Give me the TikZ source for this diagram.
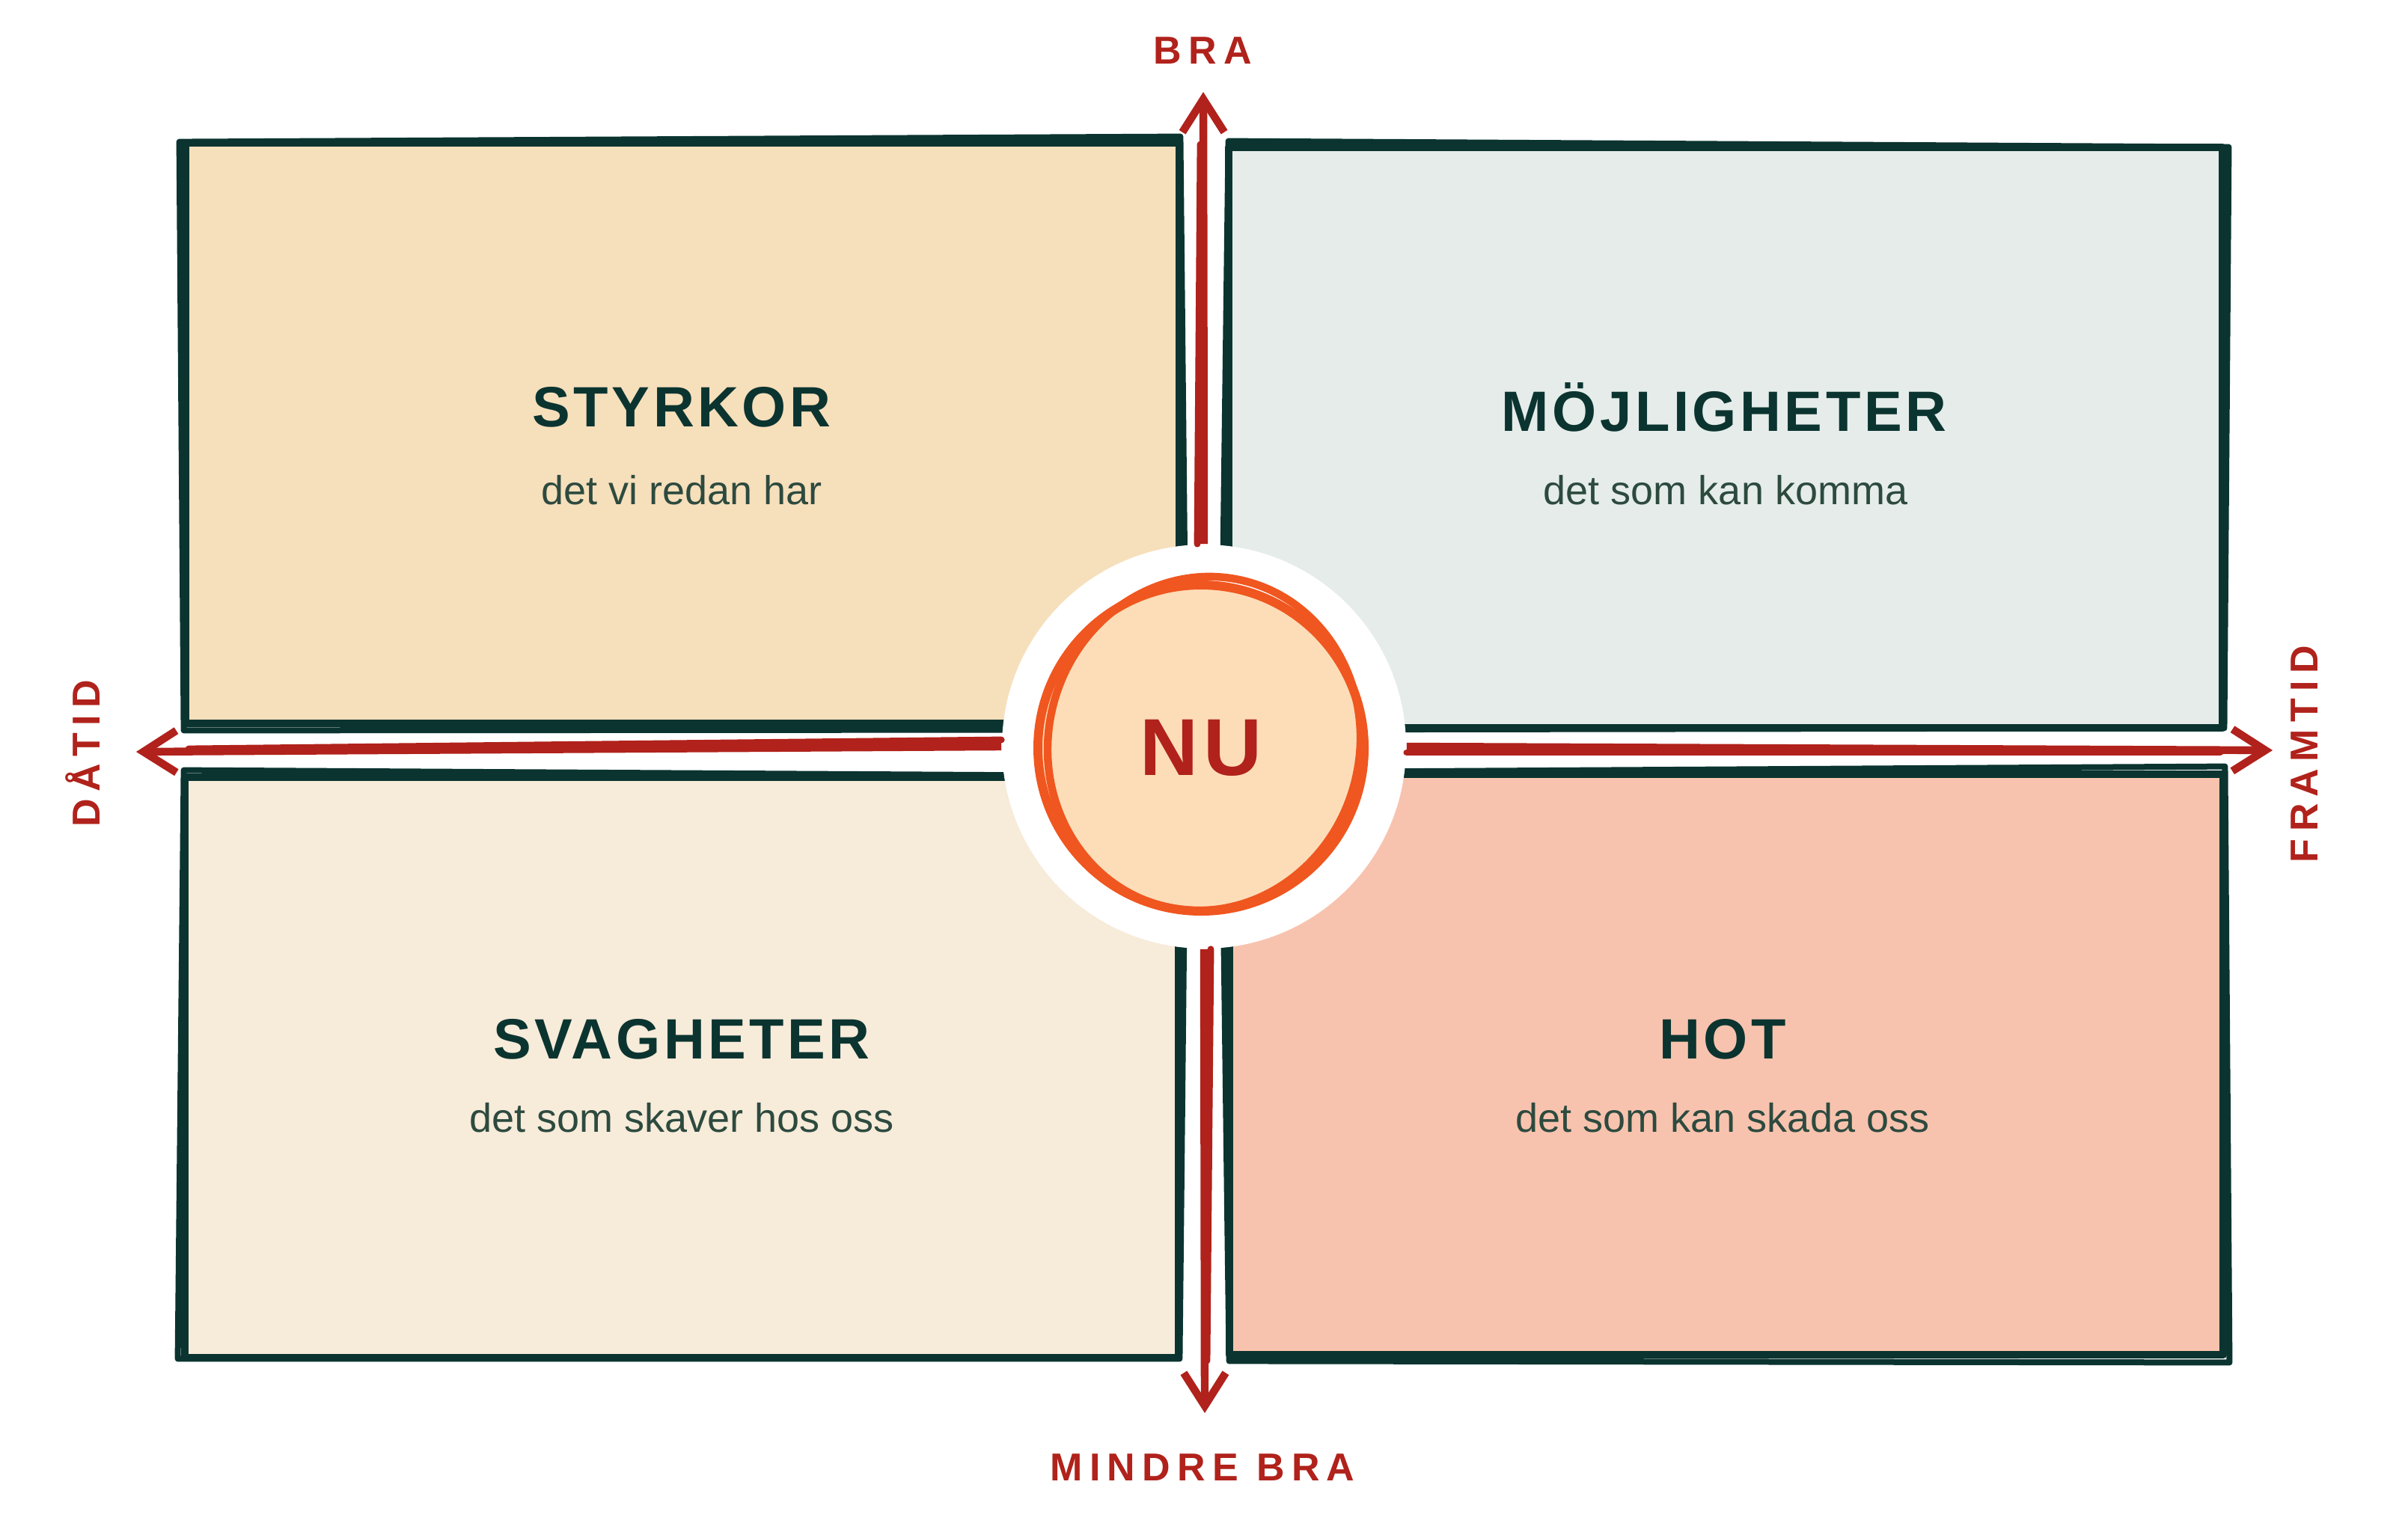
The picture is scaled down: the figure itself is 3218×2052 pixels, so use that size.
\documentclass[tikz,border=0pt]{standalone}
\usepackage{fontspec}
\setmainfont{Liberation Sans}
\newfontfamily\headfont[LetterSpace=6]{Liberation Sans}
\newfontfamily\polefont[LetterSpace=18]{Liberation Sans}
\usetikzlibrary{arrows.meta}

\definecolor{ink}{HTML}{0B3430}
\definecolor{subink}{HTML}{2D4A3F}
\definecolor{axisred}{HTML}{B0221B}
\definecolor{ringorange}{HTML}{F0561F}
\definecolor{ringfill}{HTML}{FDDDB8}
\definecolor{styrkfill}{HTML}{F6DFBB}
\definecolor{mojlfill}{HTML}{E5ECE9}
\definecolor{svagfill}{HTML}{F7EBD9}
\definecolor{hotfill}{HTML}{F8C3AE}

\begin{document}
\begin{tikzpicture}[
    x=0.25pt, y=-0.25pt,
    box/.style={draw=ink, line width=2.7pt, line join=round, minimum width=332pt, minimum height=194pt, inner sep=0pt},
    rough/.style={draw=ink, line width=2pt, line cap=round, line join=round},
    heading/.style={text=ink, font=\headfont\bfseries\fontsize{19}{22}\selectfont},
    sub/.style={text=subink, font=\fontsize{13.5}{16}\selectfont},
    halo/.style={circle, fill=white, minimum size=135pt, inner sep=0pt},
    ring/.style={circle, draw=ringorange, line width=3pt, fill=ringfill, minimum size=109pt, inner sep=0pt,
        text=axisred, font=\headfont\bfseries\fontsize{27}{30}\selectfont},
    ringline/.style={draw=ringorange, line width=2.6pt},
    axis/.style={draw=axisred, line width=2.6pt, -{Straight Barb[length=11pt, width=14pt]}},
    axisline/.style={draw=axisred, line width=2.2pt, line cap=round},
    pole/.style={text=axisred, font=\polefont\bfseries\fontsize{13}{15}\selectfont}
]

\useasboundingbox (0,0) rectangle (3218,2052);

\node[box, fill=styrkfill] (styrkor) at (912,579) {};
\node[box, fill=mojlfill] (mojligheter) at (2306,585) {};
\node[box, fill=svagfill] (svagheter) at (911,1427) {};
\node[box, fill=hotfill] (hot) at (2307,1423) {};

\foreach \b/\dx/\dy in {styrkor/-3/4, mojligheter/5/-3, svagheter/4/-4, hot/-5/3}
    \draw[rough] ([shift={(\dx,\dy)}]\b.north west) -- ([shift={(-\dy,\dx)}]\b.north east)
        -- ([shift={(\dy,-\dx)}]\b.south east) -- ([shift={(-\dx,\dy)}]\b.south west) -- cycle;

\node[heading] (styrkor-title) at (911,544) {STYRKOR};
\node[sub] (styrkor-sub) at (911,655) {det vi redan har};
\node[heading] (mojligheter-title) at (2304,544) {MÖJLIGHETER};
\node[sub] (mojligheter-sub) at (2306,655) {det som kan komma};
\node[heading] (svagheter-title) at (911,1389) {SVAGHETER};
\node[sub] (svagheter-sub) at (911,1494) {det som skaver hos oss};
\node[heading] (hot-title) at (2302,1389) {HOT};
\node[sub] (hot-sub) at (2302,1494) {det som kan skada oss};

\node[halo] (halo) at (1609,998) {};

\coordinate (bra) at (1608,123);
\coordinate (mindre) at (1610,1889);
\coordinate (datid) at (182,1005);
\coordinate (framtid) at (3037,1003);

\draw[axis] (halo.north) -- (bra);
\draw[axisline] ([shift={(-9,0)}]halo.north) -- ([shift={(-4,70)}]bra);
\draw[axis] (halo.south) -- (mindre);
\draw[axisline] ([shift={(9,0)}]halo.south) -- ([shift={(3,-70)}]mindre);
\draw[axis] (halo.west) -- (datid);
\draw[axisline] ([shift={(0,-9)}]halo.west) -- ([shift={(70,-4)}]datid);
\draw[axis] (halo.east) -- (framtid);
\draw[axisline] ([shift={(0,8)}]halo.east) -- ([shift={(-70,3)}]framtid);

\node[ring] (nu) at (1605,1000) {NU};
\draw[ringline] ([shift={(4,-6)}]nu.center) ellipse [x radius=52pt, y radius=56pt, rotate=-14];

\node[pole] (bra-label) at (1607,68) {BRA};
\node[pole] (mindre-label) at (1607,1962) {MINDRE BRA};
\node[pole, rotate=90] (datid-label) at (111,1007) {DÅTID};
\node[pole, rotate=90] (framtid-label) at (3080,1008) {FRAMTID};

\end{tikzpicture}
\end{document}
